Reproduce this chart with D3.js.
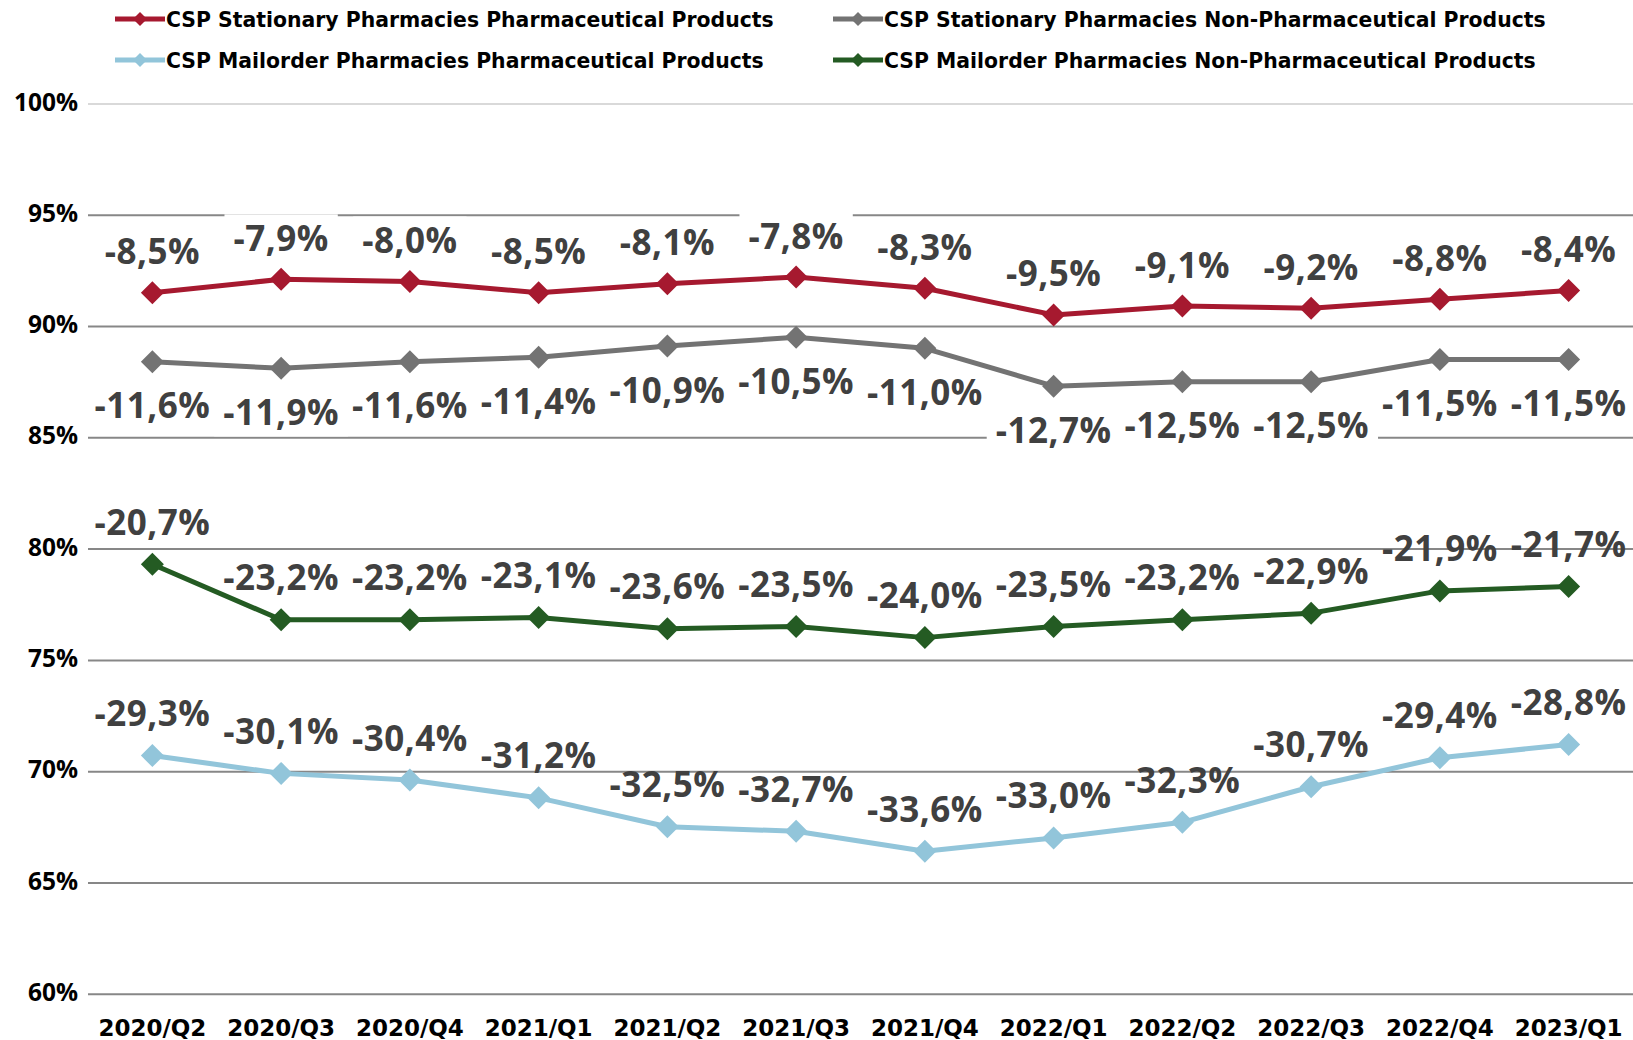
<!DOCTYPE html>
<html>
<head>
<meta charset="utf-8">
<script src="https://cdn.jsdelivr.net/npm/d3@7"></script>
<style>
  body { margin: 0; background: #fff; }
  svg { display: block; }
</style>
</head>
<body>
<div id="chart"></div>
<script>
// Data: index level per quarter (100% = reference), labels show the change
var quarters = ["2020/Q2", "2020/Q3", "2020/Q4", "2021/Q1", "2021/Q2", "2021/Q3",
                "2021/Q4", "2022/Q1", "2022/Q2", "2022/Q3", "2022/Q4", "2023/Q1"];
var stationaryPharma = [91.5, 92.1, 92.0, 91.5, 91.9, 92.2, 91.7, 90.5, 90.9, 90.8, 91.2, 91.6];
var stationaryNonPharma = [88.4, 88.1, 88.4, 88.6, 89.1, 89.5, 89.0, 87.3, 87.5, 87.5, 88.5, 88.5];
var mailorderPharma = [70.7, 69.9, 69.6, 68.8, 67.5, 67.3, 66.4, 67.0, 67.7, 69.3, 70.6, 71.2];
var mailorderNonPharma = [79.3, 76.8, 76.8, 76.9, 76.4, 76.5, 76.0, 76.5, 76.8, 77.1, 78.1, 78.3];
var seriesNames = ["CSP Stationary Pharmacies Pharmaceutical Products",
                   "CSP Stationary Pharmacies Non-Pharmaceutical Products",
                   "CSP Mailorder Pharmacies Pharmaceutical Products",
                   "CSP Mailorder Pharmacies Non-Pharmaceutical Products"];
var yTicks = [60, 65, 70, 75, 80, 85, 90, 95, 100];

// Layout
var w = 1633;
var h = 1040;
var plotLeft = 88;
var plotRight = 1633;
var plotTop = 103.5;
var plotBottom = 993.7;

// series styling (label offset is relative to the marker, + is below)
var series = [
  { name: seriesNames[0], values: stationaryPharma, color: "#a6192f", labelDy: -41, box: true },
  { name: seriesNames[1], values: stationaryNonPharma, color: "#737373", labelDy: 44, box: true },
  { name: seriesNames[2], values: mailorderPharma, color: "#92c5da", labelDy: -42, box: false },
  { name: seriesNames[3], values: mailorderNonPharma, color: "#245b23", labelDy: -42, box: false }
];

var svg = d3.select("#chart").append("svg")
  .attr("width", w)
  .attr("height", h);

var x = d3.scaleBand().domain(quarters).range([plotLeft, plotRight]).padding(0);
var y = d3.scaleLinear().domain([60, 100]).range([plotBottom, plotTop]);

// Y axis with gridlines
var yAxis = svg.append("g")
  .attr("transform", "translate(" + plotLeft + ",0)")
  .call(d3.axisLeft(y)
    .tickValues(yTicks)
    .tickSize(-(plotRight - plotLeft))
    .tickPadding(10)
    .tickFormat(function(d) { return d + "%"; }));
yAxis.select(".domain").remove();
yAxis.selectAll(".tick line")
  .attr("stroke", function(d) { return d === 100 ? "#d9d9d9" : "#878787"; })
  .attr("stroke-width", 2);
yAxis.selectAll(".tick text")
  .attr("fill", "#000")
  .attr("dy", "0.27em")
  .style("font-family", "'Open Sans', sans-serif")
  .style("font-weight", "bold")
  .style("font-size", "24.5px");

// X axis labels
var xAxis = svg.append("g")
  .attr("transform", "translate(0," + plotBottom + ")")
  .call(d3.axisBottom(x).tickSize(0).tickPadding(26));
xAxis.select(".domain").remove();
xAxis.selectAll(".tick text")
  .attr("fill", "#000")
  .style("font-family", "'DejaVu Sans', sans-serif")
  .style("font-weight", "bold")
  .style("font-size", "23px");

function diamond(r) {
  return "M0," + (-r) + "L" + r + ",0L0," + r + "L" + (-r) + ",0Z";
}

function fmtChange(v) {
  return (v - 100).toFixed(1).replace(".", ",") + "%";
}

var line = d3.line()
  .x(function(d, i) { return x(quarters[i]) + x.bandwidth() / 2; })
  .y(function(d) { return y(d); });

// Layers: label boxes sit over the gridlines but under the lines
var boxLayer = svg.append("g");
var lineLayer = svg.append("g");
var textLayer = svg.append("g");

// Lines and markers
series.forEach(function(s) {
  lineLayer.append("path")
    .datum(s.values)
    .attr("fill", "none")
    .attr("stroke", s.color)
    .attr("stroke-width", 5)
    .attr("stroke-linejoin", "round")
    .attr("d", line);

  lineLayer.append("g").selectAll("path")
    .data(s.values)
    .enter()
    .append("path")
    .attr("d", diamond(11.5))
    .attr("fill", s.color)
    .attr("transform", function(d, i) {
      return "translate(" + (x(quarters[i]) + x.bandwidth() / 2) + "," + y(d) + ")";
    });
});

// Data labels (stationary labels sit on white boxes)
series.forEach(function(s) {
  s.values.forEach(function(v, i) {
    var cx = x(quarters[i]) + x.bandwidth() / 2;
    var cy = y(v) + s.labelDy;
    var t = textLayer.append("text")
      .attr("x", cx)
      .attr("y", cy + 12.5)
      .attr("text-anchor", "middle")
      .attr("fill", "#404040")
      .style("font-family", "'Open Sans', sans-serif")
      .style("font-weight", "bold")
      .style("font-size", "35px")
      .style("letter-spacing", "0.5px")
      .text(fmtChange(v));
    if (s.box) {
      var tw = t.node().getComputedTextLength();
      boxLayer.append("rect")
        .attr("fill", "#fff")
        .attr("x", cx - tw / 2 - 9)
        .attr("y", cy - 24)
        .attr("width", tw + 18)
        .attr("height", 48);
    }
  });
});

// Legend
var legendPos = [
  { x: 115, y: 19 },
  { x: 833, y: 19 },
  { x: 115, y: 60 },
  { x: 833, y: 60 }
];
series.forEach(function(s, i) {
  var p = legendPos[i];
  var lg = svg.append("g").attr("transform", "translate(" + p.x + "," + p.y + ")");
  lg.append("line")
    .attr("x1", 0).attr("x2", 50)
    .attr("y1", 0).attr("y2", 0)
    .attr("stroke", s.color)
    .attr("stroke-width", 5);
  lg.append("path")
    .attr("d", diamond(7))
    .attr("transform", "translate(25,0)")
    .attr("fill", s.color);
  lg.append("text")
    .attr("x", 51)
    .attr("y", 7.5)
    .attr("fill", "#000")
    .style("font-family", "'DejaVu Sans', sans-serif")
    .style("font-weight", "bold")
    .style("font-size", "20.4px")
    .text(s.name);
});
</script>
</body>
</html>
